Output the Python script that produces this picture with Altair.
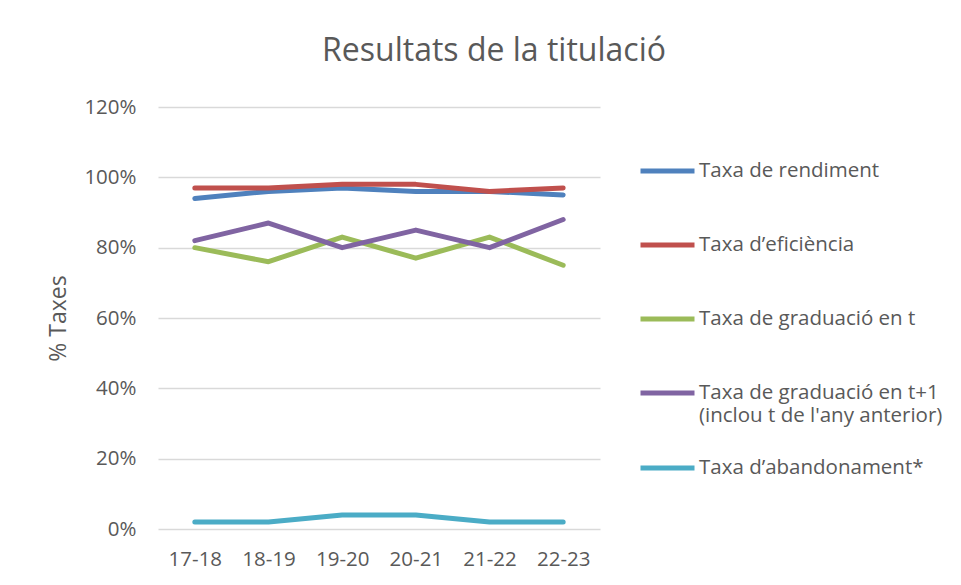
import altair as alt
import pandas as pd

years = ["17-18", "18-19", "19-20", "20-21", "21-22", "22-23"]
series_names = [
    "Taxa de rendiment",
    "Taxa d\u2019efici\u00e8ncia",
    "Taxa de graduaci\u00f3 en t",
    "Taxa de graduaci\u00f3 en t+1 (inclou t de l'any anterior)",
    "Taxa d\u2019abandonament*",
]
rendiment = [94, 96, 97, 96, 96, 95]
eficiencia = [97, 97, 98, 98, 96, 97]
graduacio_t = [80, 76, 83, 77, 83, 75]
graduacio_t1 = [82, 87, 80, 85, 80, 88]
abandonament = [2, 2, 4, 4, 2, 2]
colors = ["#4F81BD", "#C0504D", "#9BBB59", "#8064A2", "#4BACC6"]

all_values = [rendiment, eficiencia, graduacio_t, graduacio_t1, abandonament]
rows = []
for name, vals in zip(series_names, all_values):
    for y, v in zip(years, vals):
        rows.append({"Curs": y, "Serie": name, "Valor": v / 100})
df = pd.DataFrame(rows)

FONT = "Open Sans"
TXT = "#595959"
GRID = "#D9D9D9"

label_expr = (
    "indexof(datum.label, ' (') > 0 ? "
    "[substring(datum.label, 0, indexof(datum.label, ' (')), "
    "substring(datum.label, indexof(datum.label, ' (') + 1)] : datum.label"
)

chart = alt.Chart(df).mark_line(strokeWidth=5, strokeCap="round", strokeJoin="round").encode(
    x=alt.X("Curs:N", sort=years, scale=alt.Scale(paddingOuter=0.5),
            axis=alt.Axis(title=None, labelAngle=0, labelFontSize=20.5, labelPadding=20,
                          labelColor=TXT, labelFont=FONT, ticks=False, domain=False, grid=False)),
    y=alt.Y("Valor:Q", scale=alt.Scale(domain=[0, 1.2], nice=False),
            axis=alt.Axis(title="% Taxes", format=".0%", values=[0, 0.2, 0.4, 0.6, 0.8, 1.0, 1.2],
                          labelFontSize=20.5, labelColor=TXT, labelFont=FONT, labelPadding=22,
                          ticks=False, domain=False, gridColor=GRID, gridWidth=1.3,
                          titleFontSize=23, titleFont=FONT, titleColor=TXT, titleFontWeight="normal",
                          titlePadding=13)),
    color=alt.Color("Serie:N", sort=series_names,
                    scale=alt.Scale(domain=series_names, range=colors),
                    legend=alt.Legend(title=None, orient="none", legendX=480, legendY=32,
                                      symbolType="stroke", symbolSize=2916, symbolStrokeWidth=5,
                                      labelFontSize=20.5, labelFont=FONT, labelColor=TXT,
                                      labelLimit=400, labelExpr=label_expr, clipHeight=64,
                                      rowPadding=10, labelOffset=2)),
    order=alt.Order("Curs:N"),
).properties(
    width=442,
    height=422,
    title=alt.TitleParams("Resultats de la titulaci\u00f3", fontSize=32, font=FONT,
                          color=TXT, fontWeight="normal", anchor="middle", dx=115, offset=29),
    padding={"left": 150, "top": 99, "right": 352, "bottom": 43},
    autosize=alt.AutoSizeParams(type="none"),
).configure_view(stroke=None)

chart.save("out.html", embed_options={"renderer": "svg", "actions": False})
